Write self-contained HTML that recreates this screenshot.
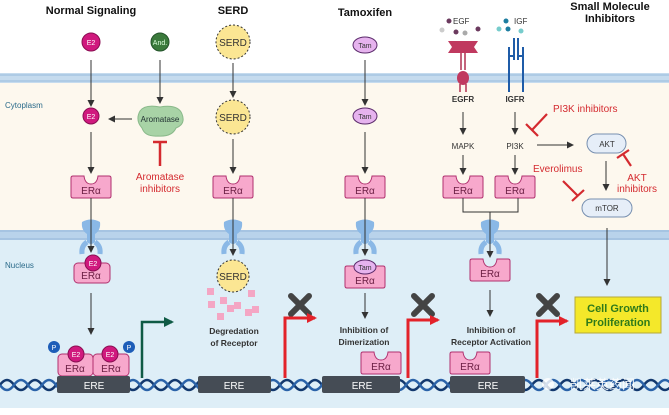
<!DOCTYPE html>
<html><head><meta charset="utf-8"><style>
html,body{margin:0;padding:0;background:#fff;}
svg{display:block;font-family:"Liberation Sans",sans-serif;}
</style></head><body>
<svg width="669" height="415" viewBox="0 0 669 415" xmlns="http://www.w3.org/2000/svg">
<defs>
<marker id="ah" markerWidth="8" markerHeight="8" refX="6" refY="4" orient="auto" markerUnits="userSpaceOnUse"><path d="M0,0.5 L7,4 L0,7.5 z" fill="#333"/></marker>
<marker id="ar" markerWidth="12" markerHeight="12" refX="8" refY="6" orient="auto" markerUnits="userSpaceOnUse"><path d="M0,1 L10,6 L0,11 z" fill="#e3222a"/></marker>
<marker id="ag" markerWidth="12" markerHeight="12" refX="8" refY="6" orient="auto" markerUnits="userSpaceOnUse"><path d="M0,1 L10,6 L0,11 z" fill="#0f5a45"/></marker>
<g id="era">
<path d="M-18,-11 L-7,-11 Q-6,-3 0,-3 Q6,-3 7,-11 L18,-11 Q20,-11 20,-9 L20,9 Q20,11 18,11 L-18,11 Q-20,11 -20,9 L-20,-9 Q-20,-11 -18,-11 z" fill="#f7a8cc" stroke="#b0306e" stroke-width="1"/>
<text x="0" y="7" font-size="10" text-anchor="middle" fill="#6a1d42">ERα</text>
</g>
<g id="pore">
<path d="M-9,-10 Q-10,-2 -4,2 L-4,10 Q0,14 4,10 L4,2 Q10,-2 9,-10 Q0,-15 -9,-10 z" fill="#8ab8e6"/>
<path d="M-9,22 Q-10,14 -4,10 M9,22 Q10,14 4,10" stroke="#8ab8e6" stroke-width="5" fill="none"/>
</g>
<g id="x"><path d="M-9,-9 L9,9 M9,-9 L-9,9" stroke="#444" stroke-width="6" stroke-linecap="round"/></g>
</defs>
<rect x="0" y="82" width="669" height="150" fill="#fdf8ee"/>
<rect x="0" y="238" width="669" height="170" fill="#deeef7"/>
<rect x="0" y="73" width="669" height="10" fill="#c5dbee"/>
<line x1="0" y1="75" x2="669" y2="75" stroke="#aecbe5" stroke-width="2"/>
<line x1="0" y1="81" x2="669" y2="81" stroke="#aecbe5" stroke-width="2"/>
<rect x="0" y="230" width="669" height="10" fill="#b9d3eb"/>
<line x1="0" y1="231" x2="669" y2="231" stroke="#a6c4e2" stroke-width="2"/>
<line x1="0" y1="239" x2="669" y2="239" stroke="#a6c4e2" stroke-width="2"/>
<text x="5" y="108" font-size="8" fill="#2a6a8a">Cytoplasm</text>
<text x="5" y="268" font-size="8" fill="#2a6a8a">Nucleus</text>
<g font-weight="bold" font-size="11" text-anchor="middle" fill="#111">
<text x="91" y="14">Normal Signaling</text>
<text x="233" y="14">SERD</text>
<text x="365" y="16">Tamoxifen</text>
<text x="610" y="10">Small Molecule</text>
<text x="610" y="22">Inhibitors</text>
</g>
<circle cx="91" cy="42" r="9" fill="#d0197e" stroke="#8a0e52"/><text x="91" y="45" font-size="7" fill="#fff" text-anchor="middle">E2</text>
<circle cx="160" cy="42" r="9" fill="#3b7a3c" stroke="#24532a"/><text x="160" y="45" font-size="7" fill="#dfd" text-anchor="middle">And.</text>
<line x1="91" y1="60" x2="91" y2="106" stroke="#333" marker-end="url(#ah)"/>
<line x1="160" y1="60" x2="160" y2="103" stroke="#333" marker-end="url(#ah)"/>
<circle cx="91" cy="116" r="8" fill="#d0197e" stroke="#8a0e52"/><text x="91" y="119" font-size="7" fill="#fff" text-anchor="middle">E2</text>
<path d="M140,111 Q145,104 160,107 Q178,104 182,114 Q186,124 176,128 Q172,137 158,136 Q145,137 142,128 Q135,120 140,111 z" fill="#a8d3a6" stroke="#8ab98a"/>
<text x="160" y="122" font-size="8" text-anchor="middle" fill="#233">Aromatase</text>
<line x1="132" y1="119" x2="109" y2="119" stroke="#333" marker-end="url(#ah)"/>
<line x1="160" y1="142" x2="160" y2="166" stroke="#d42a2f" stroke-width="2.5"/>
<line x1="153" y1="142" x2="167" y2="142" stroke="#d42a2f" stroke-width="2.5"/>
<text x="160" y="180" font-size="10" text-anchor="middle" fill="#d42a2f">Aromatase</text>
<text x="160" y="192" font-size="10" text-anchor="middle" fill="#d42a2f">inhibitors</text>
<line x1="91" y1="132" x2="91" y2="173" stroke="#333" marker-end="url(#ah)"/>
<use href="#era" x="91" y="187"/>
<use href="#pore" x="91" y="232"/>
<line x1="91" y1="198" x2="91" y2="252" stroke="#333" marker-end="url(#ah)"/>
<rect x="74" y="263" width="36" height="20" rx="4" fill="#f7a8cc" stroke="#b0306e"/>
<text x="91" y="279" font-size="10" text-anchor="middle" fill="#6a1d42">ERα</text>
<circle cx="93" cy="263" r="8" fill="#d0197e" stroke="#8a0e52"/><text x="93" y="266" font-size="7" fill="#fff" text-anchor="middle">E2</text>
<line x1="91" y1="293" x2="91" y2="334" stroke="#333" marker-end="url(#ah)"/>
<rect x="58" y="354" width="35" height="22" rx="4" fill="#f7a8cc" stroke="#b0306e"/>
<rect x="93" y="354" width="36" height="22" rx="4" fill="#f7a8cc" stroke="#b0306e"/>
<text x="75" y="372" font-size="10" text-anchor="middle" fill="#6a1d42">ERα</text>
<text x="111" y="372" font-size="10" text-anchor="middle" fill="#6a1d42">ERα</text>
<circle cx="76" cy="354" r="8" fill="#d0197e" stroke="#8a0e52"/><text x="76" y="357" font-size="7" fill="#fff" text-anchor="middle">E2</text>
<circle cx="110" cy="354" r="8" fill="#d0197e" stroke="#8a0e52"/><text x="110" y="357" font-size="7" fill="#fff" text-anchor="middle">E2</text>
<circle cx="54" cy="347" r="6" fill="#1d5db8"/><text x="54" y="350" font-size="7" fill="#fff" text-anchor="middle">P</text>
<circle cx="129" cy="347" r="6" fill="#1d5db8"/><text x="129" y="350" font-size="7" fill="#fff" text-anchor="middle">P</text>
<!-- DNA -->
<path d="M0,385 Q7,375 14,385 T28,385 T42,385 T56,385 T70,385 T84,385 T98,385 T112,385 T126,385 T140,385 T154,385 T168,385 T182,385 T196,385 T210,385 T224,385 T238,385 T252,385 T266,385 T280,385 T294,385 T308,385 T322,385 T336,385 T350,385 T364,385 T378,385 T392,385 T406,385 T420,385 T434,385 T448,385 T462,385 T476,385 T490,385 T504,385 T518,385 T532,385 T546,385 T560,385 T574,385 T588,385 T602,385 T616,385 T630,385 T644,385 T658,385 T672,385" stroke="#12386e" stroke-width="2.5" fill="none"/>
<path d="M0,385 Q7,395 14,385 T28,385 T42,385 T56,385 T70,385 T84,385 T98,385 T112,385 T126,385 T140,385 T154,385 T168,385 T182,385 T196,385 T210,385 T224,385 T238,385 T252,385 T266,385 T280,385 T294,385 T308,385 T322,385 T336,385 T350,385 T364,385 T378,385 T392,385 T406,385 T420,385 T434,385 T448,385 T462,385 T476,385 T490,385 T504,385 T518,385 T532,385 T546,385 T560,385 T574,385 T588,385 T602,385 T616,385 T630,385 T644,385 T658,385 T672,385" stroke="#2a62a8" stroke-width="2.5" fill="none"/>
<g font-size="10" fill="#fff" text-anchor="middle">
<rect x="57" y="376" width="73" height="17" rx="2" fill="#454c55"/><text x="94" y="389">ERE</text>
<rect x="198" y="376" width="73" height="17" rx="2" fill="#454c55"/><text x="234" y="389">ERE</text>
<rect x="322" y="376" width="78" height="17" rx="2" fill="#454c55"/><text x="362" y="389">ERE</text>
<rect x="450" y="376" width="75" height="17" rx="2" fill="#454c55"/><text x="488" y="389">ERE</text>
</g>
<path d="M142,378 L142,322 L172,322" stroke="#0f5a45" stroke-width="2.5" fill="none" marker-end="url(#ag)"/>
<circle cx="233" cy="42" r="17" fill="#fbe693" stroke="#333" stroke-dasharray="2,2"/><text x="233" y="46" font-size="10" text-anchor="middle" fill="#333">SERD</text>
<line x1="233" y1="63" x2="233" y2="97" stroke="#333" marker-end="url(#ah)"/>
<circle cx="233" cy="117" r="17" fill="#fbe693" stroke="#333" stroke-dasharray="2,2"/><text x="233" y="121" font-size="10" text-anchor="middle" fill="#333">SERD</text>
<line x1="233" y1="139" x2="233" y2="173" stroke="#333" marker-end="url(#ah)"/>
<use href="#era" x="233" y="187"/>
<use href="#pore" x="233" y="232"/>
<line x1="233" y1="198" x2="233" y2="255" stroke="#333" marker-end="url(#ah)"/>
<circle cx="233" cy="276" r="16" fill="#fbe693" stroke="#333" stroke-dasharray="2,2"/><text x="233" y="280" font-size="10" text-anchor="middle" fill="#333">SERD</text>
<g fill="#f4a6c4">
<rect x="207" y="288" width="7" height="7"/><rect x="248" y="290" width="7" height="7"/><rect x="208" y="301" width="7" height="7"/><rect x="220" y="297" width="7" height="7"/><rect x="234" y="302" width="7" height="7"/><rect x="227" y="305" width="7" height="7"/><rect x="245" y="309" width="7" height="7"/><rect x="217" y="313" width="7" height="7"/><rect x="252" y="306" width="7" height="7"/>
</g>
<g font-size="8.5" font-weight="bold" text-anchor="middle" fill="#333">
<text x="234" y="334">Degredation</text><text x="234" y="346">of Receptor</text>
<text x="364" y="333">Inhibition of</text><text x="364" y="345">Dimerization</text>
<text x="491" y="333">Inhibition of</text><text x="491" y="345">Receptor Activation</text>
</g>
<use href="#x" x="300" y="305"/>
<path d="M285,378 L285,318 L315,318" stroke="#e3222a" stroke-width="3" fill="none" marker-end="url(#ar)"/>
<ellipse cx="365" cy="45" rx="12" ry="8" fill="#e6b3ee" stroke="#5a2a6a"/><text x="365" y="48" font-size="7" text-anchor="middle" fill="#333">Tam</text>
<line x1="365" y1="60" x2="365" y2="105" stroke="#333" marker-end="url(#ah)"/>
<ellipse cx="365" cy="116" rx="12" ry="8" fill="#e6b3ee" stroke="#5a2a6a"/><text x="365" y="119" font-size="7" text-anchor="middle" fill="#333">Tam</text>
<line x1="365" y1="132" x2="365" y2="173" stroke="#333" marker-end="url(#ah)"/>
<use href="#era" x="365" y="187"/>
<use href="#pore" x="365" y="232"/>
<line x1="365" y1="198" x2="365" y2="255" stroke="#333" marker-end="url(#ah)"/>
<use href="#era" x="365" y="277"/>
<ellipse cx="365" cy="267" rx="11" ry="7" fill="#e6b3ee" stroke="#5a2a6a"/><text x="365" y="270" font-size="7" text-anchor="middle" fill="#333">Tam</text>
<line x1="365" y1="293" x2="365" y2="318" stroke="#333" marker-end="url(#ah)"/>
<use href="#era" x="381" y="363"/>
<use href="#x" x="423" y="305"/>
<path d="M408,378 L408,320 L438,320" stroke="#e3222a" stroke-width="3" fill="none" marker-end="url(#ar)"/>
<g font-size="8" fill="#333"><text x="453" y="24">EGF</text><text x="514" y="24">IGF</text></g>
<circle cx="449" cy="21" r="2.5" fill="#6b3a5e"/><circle cx="442" cy="30" r="2.5" fill="#ccc"/><circle cx="456" cy="32" r="2.5" fill="#6b3a5e"/><circle cx="465" cy="33" r="2.5" fill="#aaa"/><circle cx="478" cy="29" r="2.5" fill="#6b3a5e"/>
<circle cx="506" cy="21" r="2.5" fill="#1d7da0"/><circle cx="499" cy="29" r="2.5" fill="#7cc"/><circle cx="508" cy="29" r="2.5" fill="#1d7da0"/><circle cx="521" cy="31" r="2.5" fill="#7cc"/>
<path d="M448,41 L478,41 L474,47 L478,53 L448,53 L452,47 z" fill="#c0395f"/>
<line x1="461" y1="53" x2="461" y2="70" stroke="#b03050" stroke-width="1.5"/><line x1="465" y1="53" x2="465" y2="70" stroke="#b03050" stroke-width="1.5"/>
<ellipse cx="463" cy="78" rx="6" ry="7" fill="#c0395f"/>
<line x1="460" y1="84" x2="460" y2="92" stroke="#b03050" stroke-width="1.5"/><line x1="466" y1="84" x2="466" y2="92" stroke="#b03050" stroke-width="1.5"/>
<g stroke="#1f5ca8" stroke-width="2" fill="none">
<path d="M509,47 L509,92 M514,38 L514,60 M518,38 L518,60 M523,47 L523,92 M509,56 L514,56 M518,56 L523,56"/>
</g>
<g font-size="8" font-weight="bold" text-anchor="middle" fill="#333"><text x="463" y="102">EGFR</text><text x="515" y="102">IGFR</text></g>
<line x1="463" y1="112" x2="463" y2="134" stroke="#333" marker-end="url(#ah)"/>
<line x1="515" y1="112" x2="515" y2="134" stroke="#333" marker-end="url(#ah)"/>
<g font-size="8" text-anchor="middle" fill="#333"><text x="463" y="149">MAPK</text><text x="515" y="149">PI3K</text></g>
<line x1="463" y1="155" x2="463" y2="174" stroke="#333" marker-end="url(#ah)"/>
<line x1="515" y1="155" x2="515" y2="174" stroke="#333" marker-end="url(#ah)"/>
<use href="#era" x="463" y="187"/>
<use href="#era" x="515" y="187"/>
<path d="M463,198 L463,212 L518,212 L518,198" stroke="#333" fill="none"/>
<use href="#pore" x="490" y="232"/>
<line x1="490" y1="212" x2="490" y2="257" stroke="#333" marker-end="url(#ah)"/>
<use href="#era" x="490" y="270"/>
<line x1="490" y1="290" x2="490" y2="316" stroke="#333" marker-end="url(#ah)"/>
<use href="#era" x="470" y="363"/>
<use href="#x" x="548" y="305"/>
<path d="M537,378 L537,321 L567,321" stroke="#e3222a" stroke-width="3" fill="none" marker-end="url(#ar)"/>
<line x1="537" y1="145" x2="573" y2="145" stroke="#333" marker-end="url(#ah)"/>
<rect x="587" y="134" width="39" height="19" rx="9.5" fill="#e6eef8" stroke="#7890b0"/><text x="607" y="147" font-size="8" text-anchor="middle" fill="#333">AKT</text>
<line x1="606" y1="161" x2="606" y2="190" stroke="#333" marker-end="url(#ah)"/>
<rect x="582" y="199" width="50" height="18" rx="9" fill="#e6eef8" stroke="#7890b0"/><text x="607" y="211" font-size="8" text-anchor="middle" fill="#333">mTOR</text>
<line x1="607" y1="228" x2="607" y2="285" stroke="#333" marker-end="url(#ah)"/>
<g stroke="#d42a2f" stroke-width="2.2">
<line x1="547" y1="114" x2="532" y2="130"/><line x1="526" y1="124" x2="538" y2="136"/>
<line x1="631" y1="166" x2="623" y2="154"/><line x1="617" y1="158" x2="629" y2="150"/>
<line x1="563" y1="181" x2="578" y2="196"/><line x1="572" y1="201" x2="584" y2="190"/>
</g>
<g font-size="10" fill="#d42a2f"><text x="553" y="112">PI3K inhibitors</text><text x="533" y="172">Everolimus</text>
<text x="637" y="181" text-anchor="middle">AKT</text><text x="637" y="192" text-anchor="middle">inhibitors</text></g>
<rect x="575" y="297" width="86" height="36" fill="#f4e82a" stroke="#b5a83a"/>
<text x="618" y="312" font-size="11" font-weight="bold" text-anchor="middle" fill="#2f7a1a">Cell Growth</text>
<text x="618" y="326" font-size="11" font-weight="bold" text-anchor="middle" fill="#2f7a1a">Proliferation</text>
<circle cx="548" cy="384" r="6" fill="#fff" opacity="0.8"/>
<text x="570" y="389" font-size="13" fill="#fff" font-family="Liberation Sans,Noto Sans CJK SC,sans-serif" opacity="0.9">凯莱英药闻</text>
</svg>
</body></html>
